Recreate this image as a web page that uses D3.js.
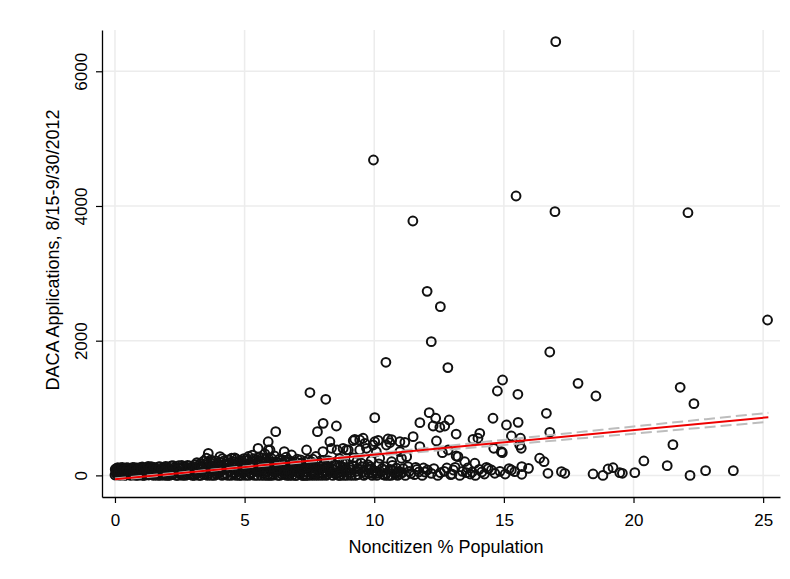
<!DOCTYPE html>
<html>
<head>
<meta charset="utf-8">
<script src="https://cdn.jsdelivr.net/npm/d3@7"></script>
<style>
  body { margin: 0; background: #fff; }
  text { font-family: "Liberation Sans", Arial, sans-serif; fill: #000; }
</style>
</head>
<body>
<script>
'use strict';

let xTicks = [0, 5, 10, 15, 20, 25];
let yTicks = [0, 2000, 4000, 6000];
let xTitle = 'Noncitizen % Population';
let yTitle = 'DACA Applications, 8/15-9/30/2012';

// [noncitizen %, applications]
let counties = [
  [0.0,5],[0.03,60],[0.06,105],[0.09,25],[0.12,80],[0.15,0],[0.19,45],[0.22,110],[0.26,15],[0.3,70],
  [0.34,95],[0.37,0],[0.41,40],[0.45,115],[0.49,20],[0.53,65],[0.57,100],[0.61,0],[0.65,50],[0.69,120],
  [0.73,10],[0.77,85],[0.81,35],[0.85,110],[0.89,0],[0.93,60],[0.97,95],
  [0.01,90],[0.05,20],[0.08,50],[0.11,115],[0.14,40],[0.17,95],[0.2,0],[0.24,60],[0.28,120],[0.32,30],
  [0.36,85],[0.39,50],[0.43,5],[0.47,90],[0.51,110],[0.55,35],[0.59,75],[0.63,20],[0.67,90],[0.71,45],
  [0.75,115],[0.79,0],[0.83,70],[0.87,40],[0.91,100],[0.95,25],[0.99,120],
  [1.01,20],[1.05,125],[1.09,55],[1.13,0],[1.18,90],[1.22,30],[1.26,115],[1.3,5],[1.35,70],[1.4,130],
  [1.44,40],[1.49,0],[1.53,100],[1.58,60],[1.62,15],[1.67,125],[1.71,80],[1.76,0],[1.8,45],[1.85,110],
  [1.9,25],[1.95,135],[1.99,70],
  [1.03,80],[1.07,0],[1.11,105],[1.15,45],[1.2,10],[1.24,70],[1.28,135],[1.33,35],[1.37,100],[1.42,10],
  [1.46,85],[1.51,120],[1.55,30],[1.6,95],[1.64,0],[1.69,55],[1.73,130],[1.78,20],[1.82,90],[1.87,60],
  [1.92,0],[1.97,105],
  [2.03,0],[2.07,100],[2.12,40],[2.17,140],[2.21,10],[2.26,75],[2.31,120],[2.36,0],[2.41,55],[2.46,145],
  [2.5,25],[2.55,95],[2.6,0],[2.65,130],[2.7,60],[2.75,15],[2.8,150],[2.85,85],[2.9,35],[2.95,120],[2.99,0],
  [2.01,125],[2.05,50],[2.1,0],[2.14,90],[2.19,60],[2.24,145],[2.28,30],[2.33,100],[2.38,70],[2.43,0],
  [2.48,115],[2.53,55],[2.58,150],[2.62,35],[2.67,90],[2.72,0],[2.77,110],[2.82,45],[2.88,140],[2.92,10],
  [2.97,75],
  [3.04,65],[3.09,160],[3.14,20],[3.19,110],[3.24,0],[3.29,175],[3.34,50],[3.39,135],[3.44,10],[3.49,90],
  [3.53,254],[3.55,190],[3.6,328],[3.62,30],[3.67,150],[3.7,230],[3.72,0],[3.77,200],[3.82,70],[3.87,120],
  [3.92,15],[3.97,180],
  [3.02,130],[3.06,0],[3.11,90],[3.16,190],[3.21,50],[3.26,140],[3.31,0],[3.36,100],[3.41,210],[3.46,45],
  [3.51,160],[3.57,0],[3.64,100],[3.69,185],[3.74,55],[3.79,140],[3.84,0],[3.89,215],[3.94,95],[3.99,30],
  [4.02,45],[4.05,278],[4.08,140],[4.13,0],[4.18,210],[4.23,90],[4.28,25],[4.33,165],[4.38,230],[4.43,60],
  [4.48,0],[4.5,254],[4.54,120],[4.59,200],[4.64,35],[4.69,240],[4.74,85],[4.79,0],[4.84,170],[4.89,220],
  [4.94,50],[4.99,130],
  [4.04,195],[4.1,70],[4.15,250],[4.2,10],[4.25,150],[4.3,100],[4.35,0],[4.4,190],[4.45,110],[4.52,40],
  [4.57,170],[4.62,260],[4.67,0],[4.72,130],[4.77,210],[4.82,60],[4.87,0],[4.92,150],[4.97,250],
  [5.04,0],[5.09,250],[5.14,95],[5.19,180],[5.24,20],[5.3,300],[5.35,140],[5.4,60],[5.45,230],[5.5,0],
  [5.52,402],[5.56,270],[5.61,110],[5.67,190],[5.72,30],[5.78,320],[5.83,150],[5.88,0],[5.91,377],[5.91,500],
  [5.94,240],[5.98,377],[5.99,80],
  [5.02,160],[5.07,60],[5.12,220],[5.17,0],[5.22,120],[5.27,40],[5.32,200],[5.38,0],[5.43,100],[5.48,170],
  [5.54,60],[5.59,220],[5.64,0],[5.7,130],[5.75,80],[5.8,240],[5.86,50],[5.93,160],[5.97,0],
  [5.05,110],[5.15,280],[5.25,170],[5.36,250],[5.47,100],[5.58,150],[5.68,260],[5.77,0],[5.85,200],[5.96,110],
  [6.05,200],[6.1,20],[6.12,150],[6.15,290],[6.18,40],[6.2,649],[6.22,120],[6.28,0],[6.34,240],[6.38,90],
  [6.4,60],[6.45,130],[6.46,180],[6.53,352],[6.55,10],[6.6,270],[6.63,40],[6.66,100],[6.7,150],[6.72,0],
  [6.78,210],[6.81,303],[6.85,50],[6.88,110],[6.9,160],[6.96,0],
  [6.02,100],[6.07,0],[6.14,60],[6.25,200],[6.31,80],[6.36,0],[6.43,20],[6.5,100],[6.57,200],[6.62,0],
  [6.68,60],[6.75,120],[6.83,0],[6.92,80],[6.98,200],
  [6.04,250],[6.16,180],[6.26,100],[6.33,160],[6.42,220],[6.52,50],[6.58,140],[6.67,230],[6.77,40],[6.86,180],
  [6.95,120],
  [7.03,240],[7.08,90],[7.1,130],[7.14,20],[7.2,180],[7.26,0],[7.32,120],[7.35,100],[7.39,377],[7.4,50],
  [7.46,230],[7.52,1230],[7.56,0],[7.6,30],[7.62,150],[7.68,70],[7.72,110],[7.75,280],[7.81,649],[7.84,0],
  [7.88,80],[7.9,190],[7.96,40],
  [7.0,0],[7.06,50],[7.12,160],[7.18,80],[7.23,0],[7.29,50],[7.37,0],[7.44,150],[7.5,90],[7.58,200],
  [7.65,10],[7.7,0],[7.79,100],[7.86,30],[7.93,130],[7.99,0],
  [7.04,150],[7.16,230],[7.24,100],[7.33,200],[7.42,0],[7.53,140],[7.63,240],[7.74,30],[7.83,170],[7.94,220],
  [8.02,352],[8.03,773],[8.08,110],[8.1,40],[8.13,1130],[8.15,0],[8.22,220],[8.25,130],[8.29,500],[8.3,60],
  [8.35,402],[8.4,0],[8.45,80],[8.47,160],[8.54,733],[8.57,377],[8.6,30],[8.66,250],[8.7,140],[8.73,90],
  [8.8,400],[8.82,0],[8.88,180],[8.9,100],[8.93,377],[8.97,40],
  [8.05,70],[8.18,20],[8.28,90],[8.38,100],[8.5,20],[8.63,0],[8.76,60],[8.85,120],[8.95,0],
  [8.07,180],[8.2,110],[8.33,200],[8.43,40],[8.55,150],[8.68,0],[8.78,180],[8.92,60],
  [9.0,377],[9.05,120],[9.1,40],[9.12,0],[9.19,515],[9.2,260],[9.25,536],[9.3,60],[9.35,100],[9.38,10],
  [9.44,525],[9.44,377],[9.5,180],[9.55,50],[9.57,551],[9.6,0],[9.64,476],[9.7,402],[9.72,90],[9.8,30],
  [9.85,130],[9.88,220],[9.92,0],[9.96,451],[9.97,4683],[9.98,70],
  [9.08,80],[9.28,0],[9.46,90],[9.66,20],[9.9,100],[10.12,30],[10.38,80],[10.65,0],[10.95,60],
  [9.15,150],[9.32,200],[9.52,130],[9.75,160],[9.95,30],[10.18,170],[10.42,0],[10.7,150],[10.88,40],
  [10.02,857],[10.02,500],[10.05,60],[10.08,352],[10.1,0],[10.15,520],[10.21,254],[10.25,50],[10.3,100],
  [10.35,10],[10.4,130],[10.45,1679],[10.45,30],[10.47,451],[10.53,540],[10.55,0],[10.6,486],[10.62,90],
  [10.67,203],[10.67,530],[10.72,70],[10.8,20],[10.85,110],[10.9,0],[10.99,352],[10.99,500],
  [11.0,20],[11.05,254],[11.08,40],[11.12,100],[11.18,491],[11.2,0],[11.25,278],[11.3,130],[11.35,60],
  [11.42,30],[11.49,3777],[11.5,575],[11.55,10],[11.6,120],[11.65,90],[11.72,50],[11.76,783],[11.76,426],
  [11.85,0],[11.9,110],[11.95,50],
  [12.04,2733],[12.05,80],[12.12,931],[12.2,1985],[12.2,30],[12.27,733],[12.3,100],[12.37,848],[12.4,511],
  [12.45,0],[12.53,714],[12.55,2505],[12.55,40],[12.63,337],[12.7,60],[12.72,733],[12.8,110],[12.84,1600],
  [12.85,377],[12.89,822],[12.95,10],
  [13.0,20],[13.05,80],[13.12,120],[13.16,614],[13.16,288],[13.23,278],[13.3,0],[13.4,60],[13.49,203],
  [13.55,40],[13.6,110],[13.7,20],[13.78,50],[13.81,536],[13.88,180],[13.9,0],[14.0,551],[14.05,90],[14.07,625],
  [14.15,50],[14.25,20],[14.33,120],[14.4,100],[14.52,80],[14.58,848],[14.61,402],[14.65,31],[14.75,1253],
  [14.85,60],[14.9,352],[14.94,337],[14.95,1416],
  [15.05,20],[15.1,748],[15.2,100],[15.29,585],[15.29,80],[15.42,55],[15.47,4148],[15.54,1204],[15.55,788],
  [15.61,451],[15.64,551],[15.67,402],[15.69,129],[15.69,16],[15.95,105],
  [16.38,254],[16.55,203],[16.64,922],[16.7,31],[16.77,640],[16.77,1832],[16.97,3916],[17.0,6440],
  [17.22,55],[17.35,31],[17.86,1367],
  [18.44,21],[18.55,1179],[18.82,0],[19.02,95],[19.21,114],[19.47,40],[19.57,31],[20.05,40],[20.4,214],
  [21.3,144],[21.52,456],[21.8,1308],[22.1,3900],[22.18,0],[22.33,1065],[22.78,70],[23.85,70],[25.17,2307]
];

let fitX = [0, 25.2];
let fitY = [-58, 863];

let ciX = [0, 5, 10, 15, 20, 25.2];
let ciHi = [-46, 133, 325, 527, 725, 929];
let ciLo = [-70, 116, 289, 452, 619, 795];

let width = 790;
let height = 579;

let svg = d3.select('body').append('svg')
  .attr('width', width)
  .attr('height', height);

let x = d3.scaleLinear().domain([-0.5, 25.65]).range([102, 780]);
let y = d3.scaleLinear().domain([-321, 6613]).range([497, 30]);

let grid = svg.append('g')
  .attr('stroke', '#ececec')
  .attr('stroke-width', 1.5);

grid.selectAll('.vx')
  .data(xTicks)
  .enter().append('line')
    .attr('x1', function(d) { return x(d); })
    .attr('x2', function(d) { return x(d); })
    .attr('y1', y.range()[1])
    .attr('y2', y.range()[0]);

grid.selectAll('.hy')
  .data(yTicks)
  .enter().append('line')
    .attr('x1', x.range()[0])
    .attr('x2', x.range()[1])
    .attr('y1', function(d) { return y(d); })
    .attr('y2', function(d) { return y(d); });

svg.append('g')
  .attr('fill', 'none')
  .attr('stroke', '#111')
  .attr('stroke-width', 2)
  .selectAll('circle')
  .data(counties)
  .enter().append('circle')
    .attr('cx', function(d) { return x(d[0]); })
    .attr('cy', function(d) { return y(d[1]); })
    .attr('r', 4.4);

let band = d3.line()
  .x(function(d) { return x(d[0]); })
  .y(function(d) { return y(d[1]); })
  .curve(d3.curveMonotoneX);

[ciHi, ciLo].forEach(function(vals) {
  svg.append('path')
    .datum(ciX.map(function(v, i) { return [v, vals[i]]; }))
    .attr('d', band)
    .attr('fill', 'none')
    .attr('stroke', '#bdbdbd')
    .attr('stroke-width', 2)
    .attr('stroke-dasharray', '11,5');
});

svg.append('path')
  .datum(fitX.map(function(v, i) { return [v, fitY[i]]; }))
  .attr('d', band)
  .attr('fill', 'none')
  .attr('stroke', '#ee0000')
  .attr('stroke-width', 2);

let xAxis = svg.append('g')
  .attr('transform', 'translate(0,497)')
  .call(d3.axisBottom(x).tickValues(xTicks).tickSize(6).tickSizeOuter(0).tickPadding(11));

let yAxis = svg.append('g')
  .attr('transform', 'translate(102,0)')
  .call(d3.axisLeft(y).tickValues(yTicks).tickSize(6).tickSizeOuter(0).tickFormat(d3.format('d')));

[xAxis, yAxis].forEach(function(g) {
  g.attr('font-size', 17).attr('font-family', '"Liberation Sans", Arial, sans-serif');
  g.select('.domain').attr('stroke', '#000').attr('stroke-width', 1.3);
  g.selectAll('.tick line').attr('stroke', '#000').attr('stroke-width', 1.2);
  g.selectAll('.tick text').attr('fill', '#000');
});

yAxis.selectAll('.tick text')
  .attr('x', null)
  .attr('dy', null)
  .attr('text-anchor', 'middle')
  .attr('transform', 'translate(-15,0) rotate(-90)');

svg.append('text')
  .attr('x', 446)
  .attr('y', 553)
  .attr('text-anchor', 'middle')
  .attr('font-size', 18)
  .text(xTitle);

svg.append('text')
  .attr('transform', 'translate(59,250) rotate(-90)')
  .attr('text-anchor', 'middle')
  .attr('font-size', 18)
  .text(yTitle);
</script>
</body>
</html>
